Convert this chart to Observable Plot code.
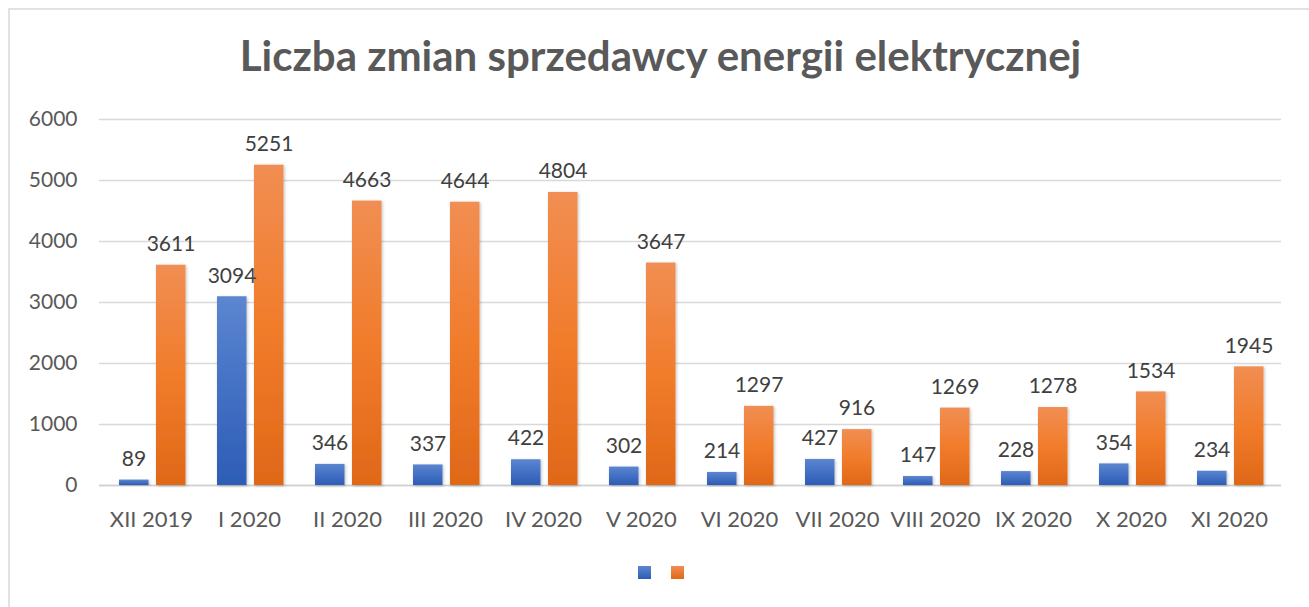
<!DOCTYPE html>
<html>
<head>
<meta charset="utf-8">
<script src="https://cdn.jsdelivr.net/npm/d3@7"></script>
<script src="https://cdn.jsdelivr.net/npm/@observablehq/plot@0.6"></script>
<style>
  html, body { margin: 0; padding: 0; background: #fff; }
  body { width: 1309px; height: 607px; overflow: hidden; position: relative; font-family: Lato, "Open Sans", sans-serif; }
  #frame { position: absolute; left: 8px; top: 8px; width: 1310px; height: 610px; border-top: 2px solid #e2e2e2; border-left: 2px solid #e2e2e2; box-sizing: border-box; pointer-events: none; }
  #title { position: relative; height: 100px; width: 1309px; }
  #title span { position: absolute; left: 12px; right: 0; top: 30px; text-align: center; font: bold 42px Lato, sans-serif; color: #595959; line-height: 50px; white-space: nowrap; }
  #chart svg { display: block; }
  #chart g[aria-label="bar"] rect { filter: url(#barShadow); }
  #legend { position: relative; height: 62px; width: 1309px; }
  .sw { position: absolute; top: 21px; width: 13px; height: 13px; }
</style>
</head>
<body>
<div id="title"><span>Liczba zmian sprzedawcy energii elektrycznej</span></div>
<div id="chart"></div>
<div id="legend">
  <div class="sw" style="left:638px;background:linear-gradient(#5c86d0,#2d5db5);"></div>
  <div class="sw" style="left:671px;background:linear-gradient(#f18e53,#e06818);"></div>
</div>
<div id="frame"></div>
<script>
const categories = ["XII 2019", "I 2020", "II 2020", "III 2020", "IV 2020", "V 2020", "VI 2020", "VII 2020", "VIII 2020", "IX 2020", "X 2020", "XI 2020"];
const blueValues = [89, 3094, 346, 337, 422, 302, 214, 427, 147, 228, 354, 234];
const orangeValues = [3611, 5251, 4663, 4644, 4804, 3647, 1297, 916, 1269, 1278, 1534, 1945];
const yTicks = [0, 1000, 2000, 3000, 4000, 5000, 6000];

const blueData = categories.map((c, i) => ({cat: c, v: blueValues[i]}));
const orangeData = categories.map((c, i) => ({cat: c, v: orangeValues[i]}));

const chart = Plot.plot({
  width: 1309,
  height: 445,
  marginTop: 19,
  marginBottom: 60,
  marginLeft: 99,
  marginRight: 28,
  style: {fontFamily: "Lato, sans-serif", fontSize: "21px", color: "#595959", background: "transparent"},
  x: {domain: categories, padding: 0, label: null},
  y: {domain: [0, 6000], label: null},
  marks: [
    Plot.gridY(yTicks, {stroke: "#d9d9d9", strokeOpacity: 1, strokeWidth: 1.5}),
    Plot.ruleY([0], {stroke: "#cfcfcf", strokeWidth: 1.5}),
    Plot.barY(blueData, {x: "cat", y: "v", fill: "url(#gBlue)", insetLeft: 17, insetRight: 51.5}),
    Plot.barY(orangeData, {x: "cat", y: "v", fill: "url(#gOrange)", insetLeft: 54, insetRight: 14.5}),
    Plot.text(blueData, {x: "cat", y: "v", text: d => String(d.v), dx: -17.5, dy: -21, lineAnchor: "middle", fill: "#404040", fontSize: 21}),
    Plot.text(orangeData, {x: "cat", y: "v", text: d => String(d.v), dx: 19.5, dy: -21, lineAnchor: "middle", fill: "#404040", fontSize: 21}),
    Plot.axisX({tickSize: 0, tickPadding: 26, fontSize: 22, label: null}),
    Plot.axisY({ticks: yTicks, tickSize: 0, tickPadding: 22, fontSize: 21, label: null, tickFormat: d => String(d)})
  ]
});

const ns = "http://www.w3.org/2000/svg";
const defs = document.createElementNS(ns, "defs");
defs.innerHTML = `
  <linearGradient id="gBlue" x1="0" y1="0" x2="0" y2="1">
    <stop offset="0" stop-color="#5c86d0"/>
    <stop offset="0.5" stop-color="#4370c4"/>
    <stop offset="1" stop-color="#2d5db5"/>
  </linearGradient>
  <linearGradient id="gOrange" x1="0" y1="0" x2="0" y2="1">
    <stop offset="0" stop-color="#f18e53"/>
    <stop offset="0.5" stop-color="#f17c2b"/>
    <stop offset="1" stop-color="#e06818"/>
  </linearGradient>
  <filter id="barShadow" x="-20%" y="-5%" width="150%" height="115%">
    <feDropShadow dx="1" dy="1" stdDeviation="1.5" flood-color="#000" flood-opacity="0.25"/>
  </filter>`;
chart.insertBefore(defs, chart.firstChild);
document.getElementById("chart").appendChild(chart);
</script>
</body>
</html>
